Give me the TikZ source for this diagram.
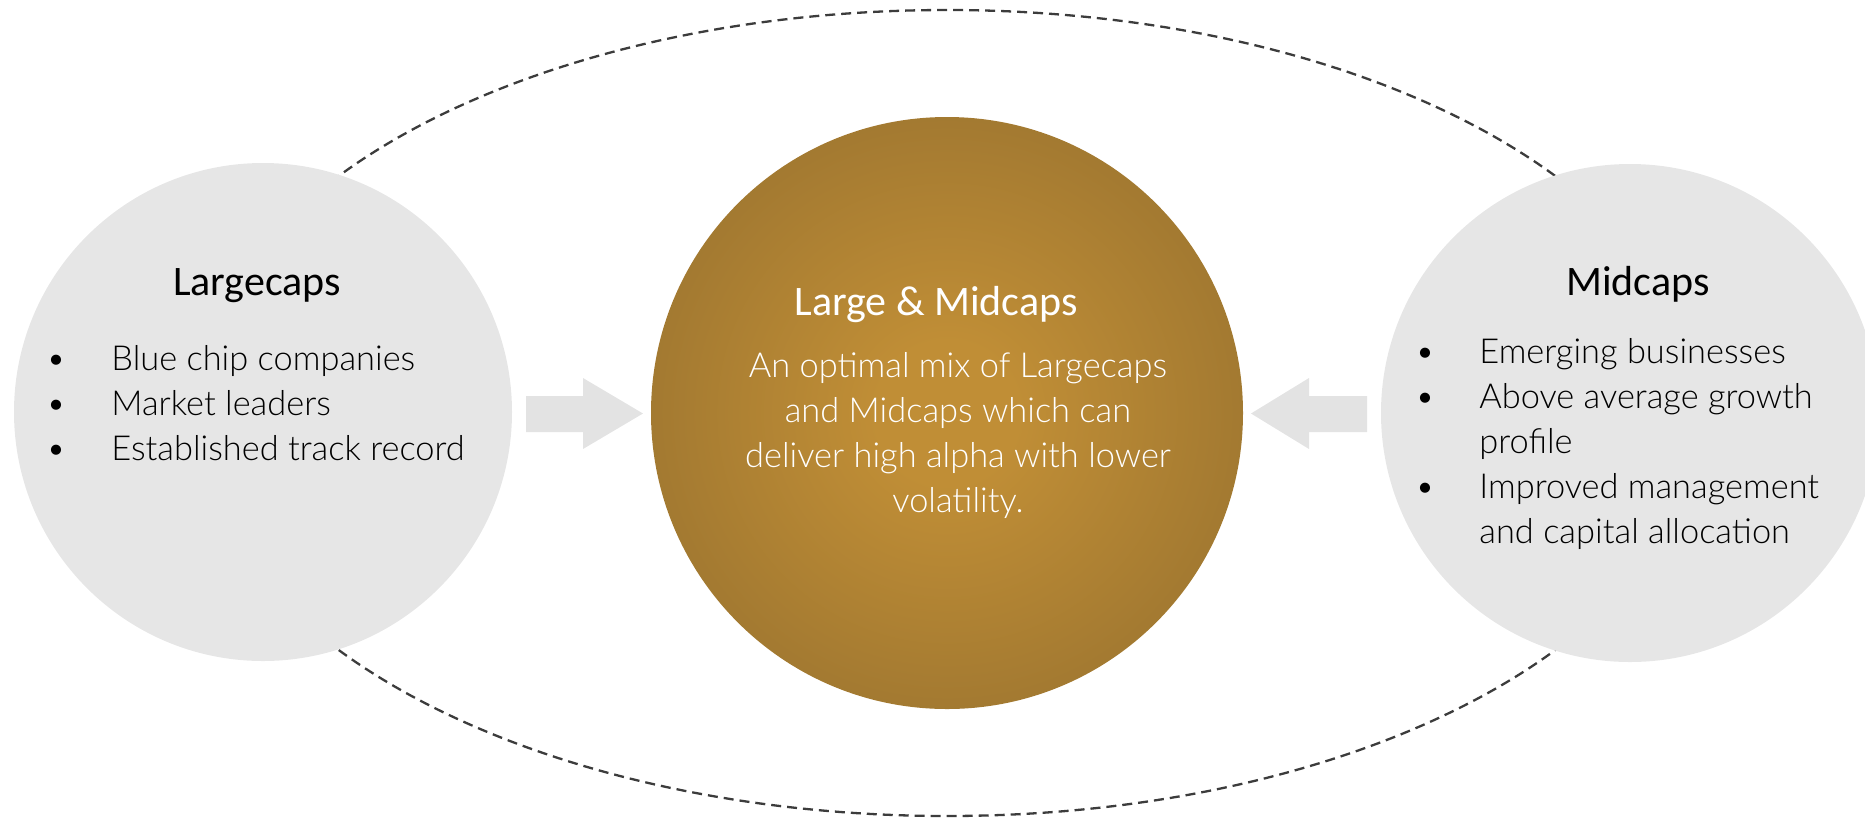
\documentclass[tikz,border=0pt]{standalone}
\usepackage{fontspec}
\setmainfont{Lato}[UprightFont=* Light]
\newfontfamily\titlefont{Carlito}
\definecolor{capgray}{RGB}{230,230,230}
\definecolor{arrowgray}{RGB}{227,227,227}
\definecolor{goldin}{RGB}{192,142,54}
\definecolor{goldout}{RGB}{134,101,44}
\definecolor{dashgray}{RGB}{60,60,60}
\pgfdeclareradialshading{goldrad}{\pgfpoint{0bp}{0bp}}{color(0bp)=(goldin); color(6bp)=(goldin); color(44bp)=(goldout); color(100bp)=(goldout)}
\tikzset{
  capcircle/.style={circle, fill=capgray, minimum size=249pt, inner sep=0pt},
  goldcircle/.style={circle, shade, shading=goldrad, minimum size=296pt, inner sep=0pt},
  titletext/.style={font=\titlefont\fontsize{21}{25}\selectfont, anchor=base, inner sep=0pt},
  itemtext/.style={font=\fontsize{17.2}{21}\selectfont, anchor=base west, inner sep=0pt},
  bodytext/.style={font=\fontsize{17.2}{21}\selectfont, anchor=base, inner sep=0pt, text=white},
  bulletmark/.style={font=\fontsize{17.2}{21}\selectfont, anchor=base, inner sep=0pt},
  blockarrow/.style={fill=arrowgray},
  ellipseline/.style={draw=dashgray, line width=1.15pt, dash pattern=on 5pt off 3pt}
}
\begin{document}
\begin{tikzpicture}[x=0.5pt,y=-0.5pt]
\useasboundingbox (0,0) rectangle (1865,821);
\clip (0,0) rectangle (1865,821);
% dashed ellipse
\draw[ellipseline] (947,413) ellipse [x radius=376pt, y radius=201.5pt];
% side circles
\node[capcircle] (L) at (263,412) {};
\node[capcircle] (R) at (1630,413) {};
% arrows
\fill[blockarrow] (526,396) -- (583,396) -- (583,378) -- (643,413.5) -- (583,449) -- (583,432) -- (526,432) -- cycle;
\fill[blockarrow] (1367,396) -- (1309,396) -- (1309,378) -- (1251,413.5) -- (1309,449) -- (1309,432) -- (1367,432) -- cycle;
% center circle
\node[goldcircle] (C) at (947,413) {};
% left texts
\node[titletext] (Lt) at (257,295) {Largecaps};
\node[bulletmark] (Lb1) at (56,370) {\textbullet};
\node[bulletmark] (Lb2) at (56,415) {\textbullet};
\node[bulletmark] (Lb3) at (56,460) {\textbullet};
\node[itemtext] (Li1) at (111,370) {Blue chip companies};
\node[itemtext] (Li2) at (111,415) {Market leaders};
\node[itemtext] (Li3) at (111,460) {Established track record};
% center texts
\node[titletext, text=white] (Ct) at (936,315) {Large \& Midcaps};
\node[bodytext] (C1) at (958,377) {An optimal mix of Largecaps};
\node[bodytext] (C2) at (958,422) {and Midcaps which can};
\node[bodytext] (C3) at (958,467) {deliver high alpha with lower};
\node[bodytext] (C4) at (958,512) {volatility.};
% right texts
\node[titletext] (Rt) at (1638,295) {Midcaps};
\node[bulletmark] (Rb1) at (1425,363) {\textbullet};
\node[bulletmark] (Rb2) at (1425,408) {\textbullet};
\node[bulletmark] (Rb3) at (1425,498) {\textbullet};
\node[itemtext] (Ri1) at (1479,363) {Emerging businesses};
\node[itemtext] (Ri2) at (1479,408) {Above average growth};
\node[itemtext] (Ri2b) at (1479,453) {profile};
\node[itemtext] (Ri3) at (1479,498) {Improved management};
\node[itemtext] (Ri3b) at (1479,543) {and capital allocation};
\end{tikzpicture}
\end{document}
